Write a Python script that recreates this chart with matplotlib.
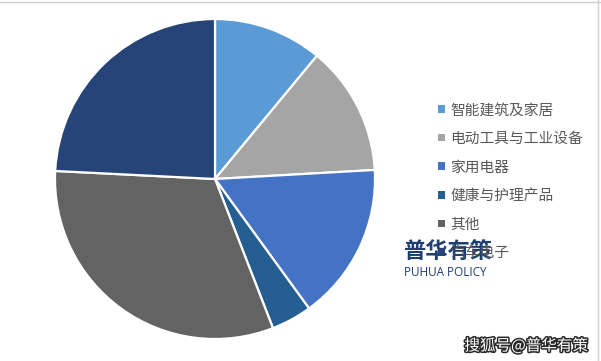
import matplotlib
matplotlib.use("Agg")
import matplotlib.pyplot as plt
import matplotlib.patheffects as pe

plt.rcParams['font.family'] = ['Noto Sans CJK SC', 'DejaVu Sans']

# data (shares, %)
labels = ['智能建筑及家居', '电动工具与工业设备', '家用电器', '健康与护理产品', '其他', '汽车电子']
shares = [11.0, 13.1, 15.9, 4.1, 31.7, 24.2]
colors = ['#5B9BD5', '#A5A5A5', '#4472C4', '#255E91', '#636363', '#264478']

W, H = 601, 361
fig = plt.figure(figsize=(W/100, H/100), dpi=100)
fig.patch.set_facecolor('white')

# pie axes: centre (215,179) px, radius 160 px
cx, cy, r = 215, 179, 160
ax = fig.add_axes([(cx-r)/W, (H-cy-r)/H, 2*r/W, 2*r/H])
wedges, _ = ax.pie(shares, colors=colors, startangle=90, counterclock=False,
                   radius=1.0, wedgeprops=dict(edgecolor='white', linewidth=1.6))
ax.set_xlim(-1, 1); ax.set_ylim(-1, 1)
ax.set_aspect('auto')
ax.set_axis_off()

leg = fig.legend(wedges, labels, loc='upper left', bbox_to_anchor=(431/W, 1-96/H),
                 frameon=False, fontsize=10.6, labelcolor='#595959',
                 handlelength=0.42, handleheight=0.42, handletextpad=0.4,
                 labelspacing=0.99, borderpad=0)
for h in leg.legend_handles:
    h.set_edgecolor('none')

# watermark (covers the last legend entry, as in the source image)
fig.text(403/W, 1-251/H, '普华有策', fontsize=16, fontweight='bold', color='#1F3F73',
         va='center', ha='left',
         bbox=dict(facecolor='white', edgecolor='none', pad=1, alpha=0.85))
fig.text(404/W, 1-272/H, 'PUHUA POLICY', fontsize=8.5, color='#1F3F73',
         va='center', ha='left', family=['Open Sans', 'DejaVu Sans'])

fig.text(526/W, 1-346/H, '搜狐号@普华有策', fontsize=11.2, color='white',
         va='center', ha='center',
         path_effects=[pe.withStroke(linewidth=2.2, foreground='#2a2a2a')])

# thin frame lines on top / right
fig.add_artist(plt.Line2D([0, 1], [1-1.5/H, 1-1.5/H], color='#D0D0D0', lw=1))
fig.add_artist(plt.Line2D([1-3/W, 1-3/W], [0, 1], color='#D0D0D0', lw=1))

fig.savefig('out.png', dpi=100, facecolor='white')
